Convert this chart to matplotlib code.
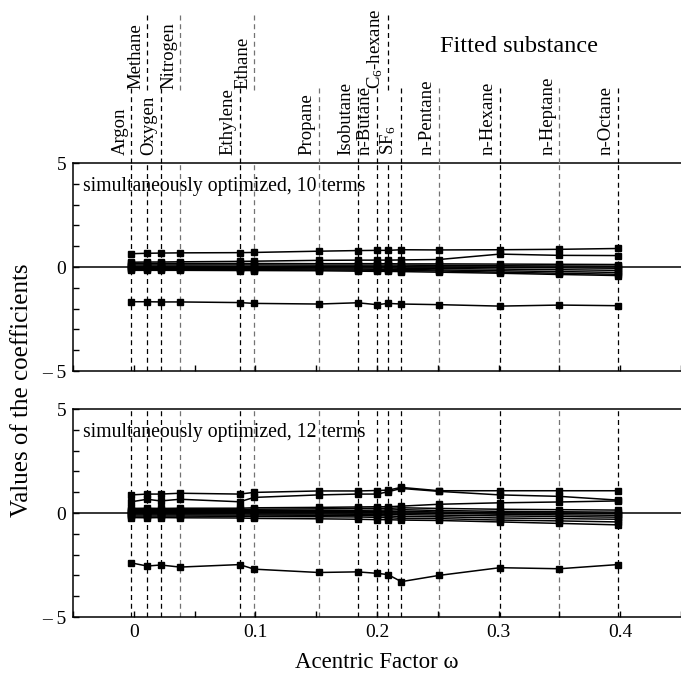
import matplotlib
matplotlib.use("Agg")
import matplotlib.pyplot as plt
import matplotlib.transforms as mtransforms
from matplotlib.lines import Line2D
from matplotlib.ticker import MultipleLocator

plt.rcParams['font.family'] = ['Liberation Serif', 'DejaVu Serif']
plt.rcParams['mathtext.fontset'] = 'custom'
plt.rcParams['mathtext.rm'] = 'Liberation Serif'
plt.rcParams['mathtext.it'] = 'Liberation Serif:italic'

# Substances (ordered by acentric factor)
names = ["Argon", "Methane", "Oxygen", "Nitrogen", "Ethylene", "Ethane",
         "Propane", "Isobutane", "n-Butane", "C$_6$-hexane", "SF$_6$",
         "n-Pentane", "n-Hexane", "n-Heptane", "n-Octane"]
omega = [-0.002, 0.011, 0.022, 0.038, 0.087, 0.099, 0.152, 0.184, 0.200,
         0.209, 0.220, 0.251, 0.301, 0.350, 0.398]
# upper label row (True) or lower row (False)
upper = [False, True, False, True, False, True, False, False, False,
         True, False, False, False, False, False]
grey = [False, False, False, True, False, True, True, False, False,
        False, False, True, False, True, False]

# 10 coefficients, simultaneously optimized
coef10 = [
    [0.64, 0.66, 0.67, 0.68, 0.69, 0.70, 0.76, 0.79, 0.80, 0.80, 0.83, 0.82, 0.83, 0.85, 0.89],
    [0.23, 0.24, 0.24, 0.25, 0.27, 0.28, 0.32, 0.33, 0.33, 0.33, 0.34, 0.36, 0.62, 0.56, 0.55],
    [0.17, 0.17, 0.17, 0.17, 0.17, 0.17, 0.16, 0.16, 0.16, 0.16, 0.15, 0.15, 0.14, 0.13, 0.12],
    [0.10, 0.10, 0.10, 0.10, 0.10, 0.10, 0.09, 0.09, 0.09, 0.09, 0.09, 0.08, 0.06, 0.05, 0.04],
    [0.04, 0.04, 0.04, 0.04, 0.03, 0.03, 0.02, 0.02, 0.01, 0.01, 0.01, 0.00, -0.02, -0.04, -0.06],
    [-0.02, -0.02, -0.02, -0.02, -0.03, -0.03, -0.04, -0.05, -0.05, -0.05, -0.06, -0.07, -0.10, -0.13, -0.16],
    [-0.07, -0.07, -0.07, -0.08, -0.08, -0.08, -0.09, -0.10, -0.11, -0.11, -0.12, -0.14, -0.18, -0.22, -0.26],
    [-0.12, -0.12, -0.12, -0.12, -0.12, -0.13, -0.14, -0.15, -0.16, -0.16, -0.17, -0.19, -0.25, -0.30, -0.35],
    [-0.16, -0.16, -0.16, -0.16, -0.17, -0.17, -0.18, -0.20, -0.21, -0.21, -0.22, -0.25, -0.30, -0.36, -0.41],
    [-1.67, -1.67, -1.68, -1.68, -1.71, -1.75, -1.78, -1.72, -1.81, -1.75, -1.78, -1.81, -1.88, -1.83, -1.86],
]

# 12 coefficients, simultaneously optimized
coef12 = [
    [0.87, 0.91, 0.91, 0.95, 0.91, 0.99, 1.06, 1.06, 1.08, 1.10, 1.23, 1.07, 1.07, 1.07, 1.07],
    [0.54, 0.66, 0.58, 0.66, 0.54, 0.75, 0.87, 0.91, 0.91, 1.02, 1.18, 1.04, 0.87, 0.80, 0.62],
    [0.22, 0.23, 0.22, 0.23, 0.23, 0.25, 0.27, 0.29, 0.30, 0.30, 0.33, 0.42, 0.49, 0.53, 0.58],
    [0.16, 0.16, 0.16, 0.16, 0.17, 0.18, 0.20, 0.22, 0.23, 0.22, 0.25, 0.22, 0.18, 0.16, 0.14],
    [0.11, 0.11, 0.11, 0.11, 0.11, 0.12, 0.13, 0.13, 0.14, 0.14, 0.16, 0.12, 0.08, 0.06, 0.04],
    [0.06, 0.06, 0.06, 0.06, 0.06, 0.06, 0.07, 0.07, 0.08, 0.07, 0.08, 0.05, 0.01, -0.01, -0.03],
    [0.01, 0.01, 0.01, 0.01, 0.01, 0.01, 0.01, 0.01, 0.01, 0.00, 0.00, -0.02, -0.06, -0.09, -0.11],
    [-0.04, -0.04, -0.04, -0.04, -0.04, -0.05, -0.05, -0.06, -0.06, -0.07, -0.08, -0.10, -0.14, -0.17, -0.20],
    [-0.09, -0.09, -0.09, -0.09, -0.10, -0.10, -0.11, -0.12, -0.13, -0.14, -0.17, -0.18, -0.24, -0.27, -0.30],
    [-0.15, -0.15, -0.15, -0.15, -0.16, -0.17, -0.18, -0.19, -0.21, -0.22, -0.26, -0.27, -0.34, -0.38, -0.43],
    [-0.22, -0.23, -0.22, -0.23, -0.24, -0.26, -0.28, -0.30, -0.32, -0.32, -0.34, -0.36, -0.43, -0.50, -0.57],
    [-2.40, -2.55, -2.50, -2.60, -2.48, -2.70, -2.86, -2.83, -2.90, -2.96, -3.30, -3.00, -2.63, -2.68, -2.48],
]

panel_text = ["simultaneously optimized, 10 terms", "simultaneously optimized, 12 terms"]
xticks = [0, 0.1, 0.2, 0.3, 0.4]
xticklabels = ["0", "0.1", "0.2", "0.3", "0.4"]
yticklabels = ["\u2013 5", "0", "5"]

W, H = 681, 677
fig = plt.figure(figsize=(W / 100, H / 100), dpi=100)
ax1 = fig.add_axes([73 / W, 1 - 371 / H, 1 - 73 / W, 208 / H])
ax2 = fig.add_axes([73 / W, 1 - 617 / H, 1 - 73 / W, 208 / H])

for ax, coefs, txt in [(ax1, coef10, panel_text[0]), (ax2, coef12, panel_text[1])]:
    ax.set_xlim(-0.05, 0.45)
    ax.set_ylim(-5, 5)
    for w, g in zip(omega, grey):
        ax.axvline(w, ls=(0, (4, 3)), lw=0.9, color='0.45' if g else 'k', zorder=1)
    ax.axhline(0, color='k', lw=1.1, zorder=2)
    for c in coefs:
        ax.plot(omega, c, '-s', color='k', lw=1.1, ms=4, zorder=3)
    ax.text(-0.042, 3.85, txt, fontsize=14.2, va='center', ha='left')
    ax.spines['right'].set_visible(False)
    for s in ['left', 'top', 'bottom']:
        ax.spines[s].set_linewidth(1.1)
    ax.set_yticks([-5, 0, 5])
    ax.set_yticklabels(yticklabels)
    ax.yaxis.set_minor_locator(MultipleLocator(1))
    ax.xaxis.set_major_locator(MultipleLocator(0.1))
    ax.xaxis.set_minor_locator(MultipleLocator(0.05))
    ax.tick_params(which='both', direction='in', top=False, right=False, length=4, width=1.0,
                   labelsize=14, pad=5)

ax1.tick_params(axis='x', labelbottom=False)
ax2.set_xticks(xticks)
ax2.set_xticklabels(xticklabels)

# substance labels above the top panel
blend = mtransforms.blended_transform_factory(ax1.transData, fig.transFigure)
shift = mtransforms.offset_copy(blend, fig=fig, x=-3, y=0, units='dots')
for name, w, up, g in zip(names, omega, upper, grey):
    col = '0.45' if g else 'k'
    if up:
        y0, y1, yb = 1 - 90 / H, 1 - 13 / H, 1 - 89 / H
    else:
        y0, y1, yb = 1 - 163 / H, 1 - 85 / H, 1 - 155 / H
    fig.add_artist(Line2D([w, w], [y0, y1], transform=blend, ls=(0, (4, 3)), lw=0.9, color=col))
    fig.text(w, yb, name, transform=shift, rotation=90, ha='right', va='bottom', fontsize=13.5)

fig.text(519 / W, 1 - 46 / H, "Fitted substance", fontsize=17.5, ha='center', va='center')
fig.text(22 / W, 1 - 390 / H, "Values of the coefficients", fontsize=18, rotation=90,
         ha='center', va='center')
fig.text(377 / W, 1 - 662 / H, "Acentric Factor \u03c9", fontsize=16.5, ha='center', va='center')

fig.savefig("out.png", dpi=100)
